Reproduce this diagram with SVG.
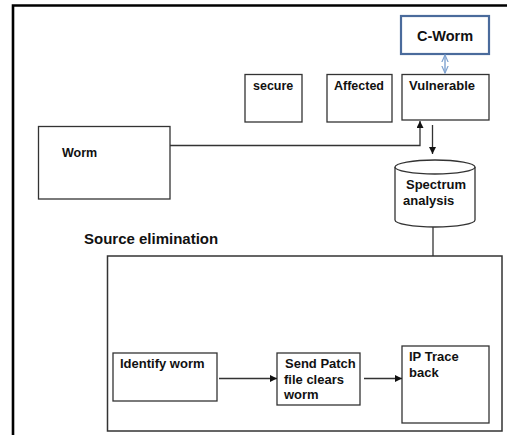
<svg xmlns="http://www.w3.org/2000/svg" width="507" height="435" viewBox="0 0 507 435">
<style>
.box{fill:#fff;stroke:#333;stroke-width:1.3}
.t{font-family:"Liberation Sans",Arial,sans-serif;font-weight:bold;font-size:13px;fill:#111}
.c{fill:none;stroke:#333;stroke-width:1.3}
</style>
<defs>
<marker id="ah" viewBox="0 0 10 10" refX="10" refY="5" markerWidth="7" markerHeight="7" markerUnits="userSpaceOnUse" orient="auto">
<path d="M0,0 L10,5 L0,10 z" fill="#111"/>
</marker>
<marker id="bh" viewBox="0 0 10 10" refX="9" refY="5" markerWidth="8" markerHeight="8" markerUnits="userSpaceOnUse" orient="auto-start-reverse">
<path d="M0,1 L9,5 L0,9" fill="none" stroke="#7fa3d0" stroke-width="1.5"/>
</marker>
</defs>
<rect width="507" height="435" fill="#fff"/>
<g id="frame">
<path d="M13,435 V5.5 H507" fill="none" stroke="#000" stroke-width="2.6"/>
</g>
<g id="cworm">
<rect x="401" y="16" width="88" height="38" fill="#fff" stroke="#4a6b9c" stroke-width="2.2"/>
<text class="t" x="417" y="41" style="font-size:14.5px">C-Worm</text>
</g>
<g id="secure">
<rect class="box" x="245" y="74.5" width="57" height="47.5"/>
<text class="t" x="253" y="90" style="font-size:12.5px">secure</text>
</g>
<g id="affected">
<rect class="box" x="327" y="74.5" width="65" height="47.5"/>
<text class="t" x="334" y="90" style="font-size:12.5px">Affected</text>
</g>
<g id="vulnerable">
<rect class="box" x="402" y="74.5" width="87" height="45.5"/>
<text class="t" x="409" y="90">Vulnerable</text>
</g>
<g id="worm">
<rect class="box" x="38.5" y="126.5" width="131.5" height="72.5"/>
<text class="t" x="62" y="157" style="font-size:12.5px">Worm</text>
</g>
<g id="spectrum">
<path class="box" d="M395,167 V220 A40,7 0 0 0 475,220 V167"/>
<ellipse class="box" cx="435" cy="167" rx="40" ry="7"/>
<text class="t" x="406" y="189">Spectrum</text>
<text class="t" x="403" y="205">analysis</text>
</g>
<text class="t" x="84" y="244" style="font-size:15px">Source elimination</text>
<g id="source-elimination">
<rect class="box" x="107.5" y="256" width="394.5" height="175" style="stroke-width:1.5"/>
</g>
<g id="identify">
<rect class="box" x="113" y="353" width="104" height="48"/>
<text class="t" x="120" y="368">Identify worm</text>
</g>
<g id="patch">
<rect class="box" x="277" y="353" width="83" height="52"/>
<text class="t" x="285" y="368">Send Patch</text>
<text class="t" x="284" y="384">file clears</text>
<text class="t" x="284" y="399">worm</text>
</g>
<g id="iptrace">
<rect class="box" x="402" y="346" width="87" height="77"/>
<text class="t" x="409" y="361">IP Trace</text>
<text class="t" x="409" y="377">back</text>
</g>
<g id="connectors">
<line x1="445" y1="55" x2="445" y2="73" stroke="#7fa3d0" stroke-width="1.4" marker-start="url(#bh)" marker-end="url(#bh)"/>
<path class="c" d="M170,145.5 H420 V121" marker-end="url(#ah)"/>
<line class="c" x1="432.5" y1="125" x2="432.5" y2="154" marker-end="url(#ah)"/>
<line class="c" x1="433" y1="227" x2="433" y2="256"/>
<line class="c" x1="219" y1="378.5" x2="277" y2="378.5" marker-end="url(#ah)"/>
<line class="c" x1="364" y1="378.5" x2="402" y2="378.5" marker-end="url(#ah)"/>
</g>
</svg>
